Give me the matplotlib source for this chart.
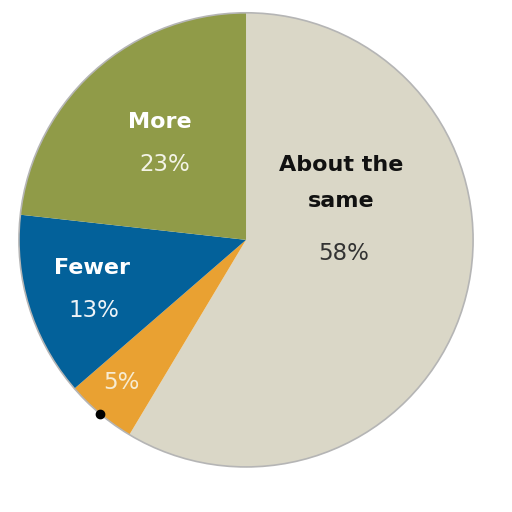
import matplotlib.pyplot as plt
import numpy as np

# Survey shares (clockwise from 12 o'clock)
categories = ['About the\nsame', '', 'Fewer', 'More']
values = [58, 5, 13, 23]
pct_labels = ['58%', '5%', '13%', '23%']
colors = ['#dad7c7', '#e9a132', '#03619a', '#909b48']

plt.rcParams['font.family'] = ['DejaVu Sans']

fig = plt.figure(figsize=(5.12, 5.12), dpi=100)
ax = fig.add_axes([0.037, 0.088, 0.887, 0.887])

wedges, _ = ax.pie(values, colors=colors, startangle=90, counterclock=False,
                   radius=1, wedgeprops=dict(linewidth=0))
# thin grey rim round the pie
rim = plt.Circle((0, 0), 1, fill=False, edgecolor='#b5b5b5', linewidth=1.2,
                 clip_on=False)
ax.add_patch(rim)

# label placement (name, percent) in axes data units
name_pos = [(0.42, 0.25), None, (-0.68, -0.125), (-0.38, 0.52)]
pct_pos = [(0.43, -0.06), (-0.55, -0.63), (-0.67, -0.31), (-0.36, 0.33)]
name_colors = ['#111111', None, 'white', 'white']
pct_colors = ['#333333', '#f7ecd2', '#eef3f7', '#f3f3e6']

for i in range(len(values)):
    if name_pos[i] is not None:
        ax.text(*name_pos[i], categories[i], ha='center', va='center',
                fontsize=16, fontweight='bold', color=name_colors[i],
                linespacing=2.0)
    ax.text(*pct_pos[i], pct_labels[i], ha='center', va='center',
            fontsize=16.5, color=pct_colors[i])

# small black dot on the rim of the orange slice
w = wedges[1]
mid = np.deg2rad((w.theta1 + w.theta2) / 2)
ax.plot(np.cos(mid), np.sin(mid), 'o', color='black', markersize=6,
        clip_on=False)

ax.set_xlim(-1.0, 1.0)
ax.set_ylim(-1.0, 1.0)
ax.set_aspect('equal')
ax.axis('off')

fig.savefig('out.png', dpi=100)
